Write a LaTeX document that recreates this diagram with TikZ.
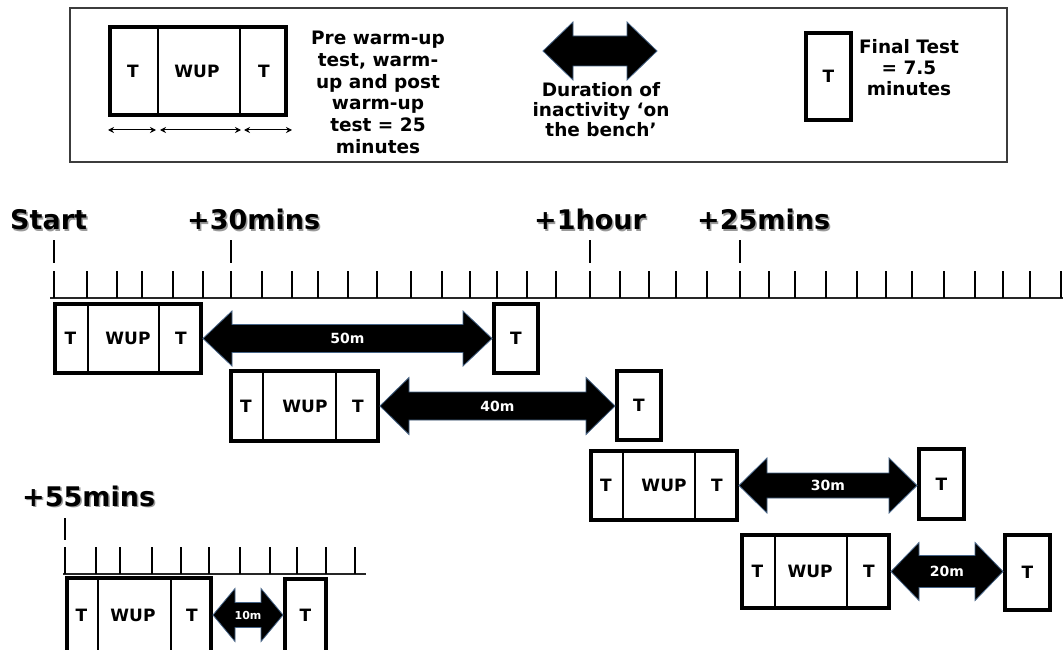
\documentclass[tikz,border=0pt]{standalone}
\usepackage{fontspec}
\setmainfont{DejaVu Sans}
\usetikzlibrary{calc,arrows.meta}
\definecolor{arredge}{RGB}{70,100,135}
\definecolor{legframe}{RGB}{60,60,60}
\tikzset{
  frame/.style={draw=black, line width=4pt, inner sep=0pt, fill=white},
  divider/.style={draw=black, line width=1.2pt},
  boxtxt/.style={inner sep=0pt, font=\fontsize{17}{19}\selectfont\bfseries},
  finframe/.style={frame, font=\fontsize{17}{19}\selectfont\bfseries},
  bigarr/.style={fill=black, draw=arredge, line width=0.8pt, line join=miter},
  arrlbl/.style={text=white, inner sep=0pt, font=\bfseries},
  tick/.style={draw=black, line width=1.2pt},
  axisline/.style={draw=black!85, line width=1.3pt},
  tlabel/.style={anchor=base west, inner sep=0pt, font=\fontsize{27}{30}\selectfont\bfseries},
  tshadow/.style={tlabel, text=black!40},
  legtxt/.style={align=center, inner sep=0pt, font=\fontsize{18.5}{21.7}\selectfont\bfseries},
  smallarr/.style={{Stealth[length=6pt,width=6pt]}-{Stealth[length=6pt,width=6pt]}, line width=1pt},
}
% #1 name, #2 x left, #3 y top, #4 x right, #5 y bottom (outer edges), #6 divider 1, #7 divider 2, #8 x of WUP
\newcommand\wupbox[8]{%
  \node[frame, minimum width={#4-#2-4}, minimum height={#5-#3-4}] (#1) at ({(#2+#4)/2},{(#3+#5)/2}) {};
  \draw[divider] (#6,#3) -- (#6,#5);
  \draw[divider] (#7,#3) -- (#7,#5);
  \node[boxtxt] (#1-ta) at ({(#2+#6)/2},{(#3+#5)/2}) {T};
  \node[boxtxt] (#1-w) at (#8,{(#3+#5)/2}) {WUP};
  \node[boxtxt] (#1-tb) at ({(#7+#4)/2},{(#3+#5)/2}) {T};
}
% #1 name, #2 x left, #3 y top, #4 x right, #5 y bottom
\newcommand\finbox[5]{%
  \node[finframe, minimum width={#4-#2-4}, minimum height={#5-#3-4}] (#1) at ({(#2+#4)/2},{(#3+#5)/2}) {T};
}
% #1 start, #2 end, #3 label, #4 head length, #5 half head, #6 half shaft, #7 font size, #8 label name
\newcommand\bigarrow[8]{%
  \path[bigarr] let \p1=#1, \p2=#2 in
    (\x1,\y1) -- (\x1+#4pt,\y1+#5pt) -- (\x1+#4pt,\y1+#6pt) -- (\x2-#4pt,\y1+#6pt)
    -- (\x2-#4pt,\y1+#5pt) -- (\x2,\y1) -- (\x2-#4pt,\y1-#5pt) -- (\x2-#4pt,\y1-#6pt)
    -- (\x1+#4pt,\y1-#6pt) -- (\x1+#4pt,\y1-#5pt) -- cycle
    (0.5*\x1+0.5*\x2,\y1) node[arrlbl, font=\fontsize{#7}{#7}\selectfont\bfseries] (#8) {#3};
}
\begin{document}
\begin{tikzpicture}[x=1pt,y=-1pt]
\useasboundingbox (0,0) rectangle (1063,650);
\fill[white] (0,0) rectangle (1063,650);
\clip (0,0) rectangle (1063,650);

% ---------------- legend ----------------
\node[draw=legframe, line width=1.3pt, inner sep=0pt, minimum width=937, minimum height=154] (legend) at (538.5,85) {};
\wupbox{lw}{108}{25}{288}{117}{158}{240}{197}
\coordinate (la0) at (108,130); \coordinate (la1) at (156,130);
\coordinate (lb0) at (160,130); \coordinate (lb1) at (241,130);
\coordinate (lc0) at (244,130); \coordinate (lc1) at (292,130);
\draw[smallarr] (la0) -- (la1);
\draw[smallarr] (lb0) -- (lb1);
\draw[smallarr] (lc0) -- (lc1);
\node[legtxt] (ltxt1) at (378,92.5) {Pre warm-up\\test, warm-\\up and post\\warm-up\\test = 25\\minutes};
\coordinate (legA) at (543,51); \coordinate (legB) at (657,51);
\bigarrow{(legA)}{(legB)}{}{30}{29}{15}{14}{legarr}
\node[legtxt, font=\fontsize{18.5}{20}\selectfont\bfseries] (ltxt2) at (601,110) {Duration of\\inactivity ‘on\\the bench’};
\finbox{lf}{804}{31}{853}{122}
\node[legtxt, font=\fontsize{18.5}{20.8}\selectfont\bfseries] (ltxt3) at (909,67.5) {Final Test\\= 7.5\\minutes};

% ---------------- main timeline ----------------
\coordinate (axL) at (50,298); \coordinate (axR) at (1063,298);
\draw[axisline] (axL) -- (axR);
\foreach \x in {54,87,117,142,173,203,231,262,292,318,348,377,411,442,470,497,527,556,590,620,649,676,707,740,769,795,826,857,886,912,944,975,1003,1030,1061}
  \draw[tick] (\x,271) -- (\x,298);
\foreach \x in {54,231,590,740}
  \draw[tick] (\x,240) -- (\x,263);
\node[tshadow] at (11.5,231) {Start};
\node[tlabel] (lstart) at (10,229.5) {Start};
\node[tshadow] at (188.5,231) {+30mins};
\node[tlabel] (l30) at (187,229.5) {+30mins};
\node[tshadow] at (535.5,231) {+1hour};
\node[tlabel] (l1h) at (534,229.5) {+1hour};
\node[tshadow] at (698.5,231) {+25mins};
\node[tlabel] (l25) at (697,229.5) {+25mins};

% rows
\wupbox{r1}{53}{302}{203}{375}{88}{159}{128}
\finbox{f1}{492}{302}{540}{375}
\bigarrow{(r1.east)}{(f1.west)}{50m}{29}{27.5}{14}{14}{a1}

\wupbox{r2}{229}{369}{380}{443}{263}{336}{305}
\finbox{f2}{615}{369}{663}{442}
\bigarrow{(r2.east)}{(f2.west)}{40m}{29}{28.5}{14}{14}{a2}

\wupbox{r3}{589}{449}{739}{522}{623}{695}{664}
\finbox{f3}{917}{447}{966}{521}
\bigarrow{(r3.east)}{(f3.west)}{30m}{28}{27.5}{12.5}{14}{a3}

\wupbox{r4}{740}{533}{891}{610}{775}{847}{810}
\finbox{f4}{1003}{533}{1052}{612}
\bigarrow{(r4.east)}{(f4.west)}{20m}{28}{29}{16}{14}{a4}

% ---------------- lower-left timeline ----------------
\coordinate (bxL) at (63,574); \coordinate (bxR) at (366,574);
\draw[axisline] (bxL) -- (bxR);
\foreach \x in {65,96,120,152,181,209,240,270,297,326,355}
  \draw[tick] (\x,547) -- (\x,574);
\draw[tick] (65,518) -- (65,540);
\node[tshadow] at (23.5,507.5) {+55mins};
\node[tlabel] (l55) at (22,506) {+55mins};

\wupbox{r5}{65}{576}{213}{654}{98}{171}{133}
\finbox{f5}{283}{577}{328}{654}
\bigarrow{(r5.east)}{(f5.west)}{10m}{22}{26.5}{12.5}{11}{a5}
\end{tikzpicture}
\end{document}
